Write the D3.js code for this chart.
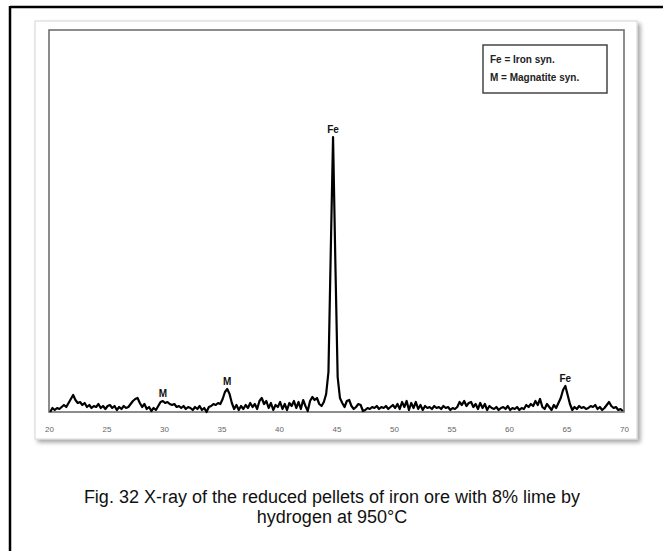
<!DOCTYPE html>
<html><head><meta charset="utf-8">
<script src="https://cdn.jsdelivr.net/npm/d3@7"></script>
<style>html,body{margin:0;padding:0;background:#fff;overflow:hidden}</style>
</head><body>
<svg id="c" width="663" height="551"></svg>
<script>
// 2-theta sampling grid (degrees)
const angleStart = 20.1, angleStep = 0.2, nPoints = 250;
// diffracted intensity (a.u.)
const intensity = [
  0,4,2,4,3,5,7,5,9,13,
  17,12,9,10,7,9,5,7,4,6,
  5,8,4,6,3,6,7,4,6,2,
  5,3,6,4,5,8,11,13,14,9,
  5,8,3,5,1,4,2,6,10,11,
  9,10,8,7,8,5,6,4,6,3,
  5,4,2,5,3,6,2,4,0,5,
  6,8,7,9,8,13,20,23,18,9,
  3,7,2,6,3,7,4,9,5,8,
  3,11,14,8,11,4,9,2,7,5,
  10,3,8,2,9,6,11,4,10,3,
  12,6,1,11,15,12,14,8,6,10,
  18,40,160,275,150,35,14,9,5,11,
  12,6,3,5,8,7,1,2,4,3,
  5,4,6,3,5,4,6,3,5,7,
  4,8,3,10,5,11,2,9,4,10,
  3,7,2,6,4,5,3,6,4,5,
  3,6,4,5,2,4,3,5,10,7,
  11,6,9,10,5,8,3,9,4,8,
  2,6,4,3,5,2,4,5,3,6,
  2,4,3,5,2,4,3,7,5,8,
  6,11,7,13,5,3,8,5,2,7,
  4,9,14,22,26,17,8,2,5,3,
  6,4,5,3,4,6,5,7,3,5,
  2,4,7,10,6,4,5,2,3,1
];
const xTicks = [20,25,30,35,40,45,50,55,60,65,70];
const peakLabels = ["M","M","Fe","Fe"];
const peakAngles = [29.9,35.5,44.7,64.9];
const legendLines = ["Fe = Iron syn.","M = Magnatite syn."];
const captionLines = ["Fig. 32 X-ray of the reduced pellets of iron ore with 8% lime by","hydrogen at 950°C"];

const angles = d3.range(nPoints).map(i => +(angleStart + angleStep*i).toFixed(1));
const data = angles.map((a,i)=>({a, v:intensity[i]}));

const svg = d3.select("#c");
const defs = svg.append("defs");
const f = defs.append("filter").attr("id","sh").attr("x","-5%").attr("y","-5%").attr("width","115%").attr("height","115%");
f.append("feDropShadow").attr("dx",3).attr("dy",3).attr("stdDeviation",2).attr("flood-color","#000").attr("flood-opacity",0.35);

// outer document frame
svg.append("line").attr("x1",10).attr("x2",663).attr("y1",7).attr("y2",7).attr("stroke","#000").attr("stroke-width",2.5);
svg.append("line").attr("x1",10).attr("x2",10).attr("y1",6).attr("y2",551).attr("stroke","#000").attr("stroke-width",2.5);

// figure panel
svg.append("rect").attr("x",35).attr("y",21).attr("width",602).attr("height",418)
  .attr("fill","#fff").attr("stroke","#d4d4d4").attr("stroke-width",1).attr("filter","url(#sh)");

const L=49, R=624, T=30, B=412;
const x = d3.scaleLinear().domain([20,70]).range([L,R]);
const y = d3.scaleLinear().domain([0,382]).range([B,T]);

svg.append("rect").attr("x",L).attr("y",T).attr("width",R-L).attr("height",B-T)
  .attr("fill","#fff").attr("stroke","#707070").attr("stroke-width",1.6);

const ax = svg.append("g").attr("transform",`translate(0,${B})`)
  .call(d3.axisBottom(x).tickValues(xTicks).tickSize(0).tickPadding(14).tickFormat(d3.format("d")));
ax.select(".domain").remove();
ax.selectAll("text").attr("font-family","Liberation Sans, Arial, sans-serif").attr("font-size",8).attr("fill","#666");

svg.append("path").datum(data)
  .attr("d", d3.line().x(d=>x(d.a)).y(d=>y(d.v)))
  .attr("fill","none").attr("stroke","#000").attr("stroke-width",2.2).attr("stroke-linejoin","round");

peakLabels.forEach((t,i)=>{
  const a = peakAngles[i];
  const v = intensity[angles.indexOf(a)];
  svg.append("text").attr("x",x(a)).attr("y",y(v)-4).attr("text-anchor","middle")
    .attr("font-family","Liberation Sans, Arial, sans-serif").attr("font-weight","bold")
    .attr("font-size",10).attr("fill","#111").text(t);
});

// legend
svg.append("rect").attr("x",483).attr("y",45).attr("width",124).attr("height",48)
  .attr("fill","#fff").attr("stroke","#444").attr("stroke-width",1.5);
legendLines.forEach((t,i)=>{
  svg.append("text").attr("x",490).attr("y",63+i*18)
    .attr("font-family","Liberation Sans, Arial, sans-serif").attr("font-weight","bold")
    .attr("font-size",10).attr("fill","#222").text(t);
});

// caption
captionLines.forEach((t,i)=>{
  svg.append("text").attr("x",332).attr("y",503+i*20).attr("text-anchor","middle")
    .attr("font-family","Liberation Sans, Arial, sans-serif").attr("font-size",18).attr("fill","#111").text(t);
});
</script>
</body></html>
